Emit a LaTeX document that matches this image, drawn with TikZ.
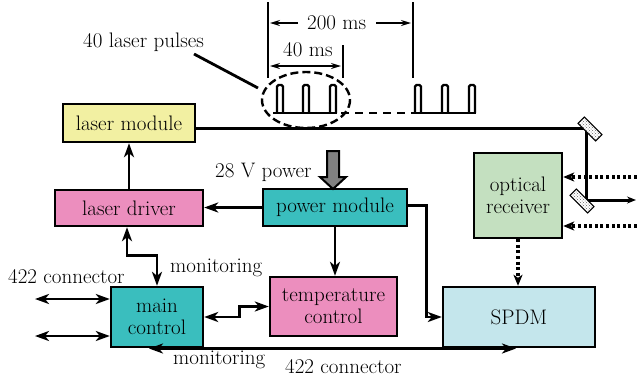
\documentclass[tikz,border=0pt]{standalone}
\usetikzlibrary{arrows.meta,calc,patterns}
\definecolor{cyel}{RGB}{242,240,162}
\definecolor{cpink}{RGB}{236,142,190}
\definecolor{cteal}{RGB}{58,190,190}
\definecolor{cgreen}{RGB}{196,224,192}
\definecolor{cblue}{RGB}{196,230,236}
\definecolor{cgray}{RGB}{128,128,128}
\begin{document}
\begin{tikzpicture}[x=1pt,y=-1pt,
  every node/.style={font=\fontsize{21}{22}\selectfont},
  box/.style={draw, line width=2.4pt, inner sep=0pt, align=center},
  lbl/.style={inner sep=0pt, anchor=base west},
  arr/.style={line width=2.8pt, -{Stealth[length=14pt,width=10pt,inset=4pt]}},
  darr/.style={line width=2.8pt, {Stealth[length=14pt,width=10pt,inset=4pt]}-{Stealth[length=14pt,width=10pt,inset=4pt]}},
  dotarr/.style={line width=3.2pt, dash pattern=on 3pt off 2.6pt, -{Stealth[length=11pt,width=9pt,inset=3pt]}},
  thinarr/.style={line width=1.4pt, -{Stealth[length=10pt,width=6pt]}},
  tick/.style={line width=1.8pt},
  pulse/.style={line width=2.2pt, rounded corners=1.5pt},
  mirrorbox/.style={draw, line width=1pt, minimum width=25pt, minimum height=9pt, inner sep=0pt,
    preaction={fill=white}, pattern=crosshatch dots, pattern color=black!60}
]
\useasboundingbox (0,0) rectangle (637,381);

% boxes
\node[box, fill=cyel, minimum width=132pt, minimum height=38pt] (lm) at (129,123) {laser module};
\node[box, fill=cpink, minimum width=148pt, minimum height=36pt] (ld) at (129,208) {laser driver};
\node[box, fill=cteal, minimum width=144pt, minimum height=37pt] (pm) at (335,207.5) {power module};
\node[box, fill=cteal, minimum width=92pt, minimum height=60pt] (mc) at (157,317) {main\\control};
\node[box, fill=cpink, minimum width=127pt, minimum height=59pt] (tc) at (333.5,306.5) {temperature\\control};
\node[box, fill=cgreen, minimum width=88pt, minimum height=85pt] (or) at (518,195.5) {optical\\receiver};
\node[box, fill=cblue, minimum width=152pt, minimum height=60pt] (sp) at (519,317) {SPDM};

% labels
\node[lbl] (t28) at (215,177) {28 V power};
\node[lbl] (mon1) at (170,272) {monitoring};
\node[lbl] (c1) at (8,283) {422 connector};
\node[lbl] (mon2) at (173,364) {monitoring};
\node[lbl] (c2) at (285,373) {422 connector};
\node[lbl] (lp) at (83,47) {40 laser pulses};
\node[lbl] (t200) at (307,29) {200 ms};
\node[lbl] (t40) at (283,56) {40 ms};

% 28 V gray arrow
\draw[line width=2pt, fill=cgray, line join=miter]
  (327,151) -- (339,151) -- (339,177) -- (346,177) -- (333,189) -- (320,177) -- (327,177) -- cycle;

% connectors
\draw[arr] (ld.north) -- (lm.south);
\draw[arr] (pm.west) -- (pm.west -| ld.east);
\draw[arr] (pm.south) -- (pm.south |- tc.north);
\draw[arr] ($(pm.east)+(0,-2)$) -- ++(18,0) |- (sp.west);
\draw[darr] (mc.north) -- ++(0,-30) -| ($(ld.south)+(-2,0)$);
\draw[darr] (mc.east) -- ++(35,0) |- (tc.west);
\coordinate (l1) at (35,299);
\coordinate (l2) at (35,336);
\draw[darr] (l1) -- (l1 -| mc.west);
\draw[darr] (l2) -- (l2 -| mc.west);
\coordinate (b1) at (149,348.5);
\coordinate (b2) at (516,348.5);
\draw[darr] (b1) -- (b2);

% optical paths
\coordinate (m1) at (586,128.5);
\coordinate (m2) at (586,200);
\coordinate (out) at (636,200);
\draw[line width=3pt, line join=miter, -{Stealth[length=9pt,width=7pt]}] ($(lm.east)+(0,5.5)$) -- (m1) -- (m2) -- (out);
\node[mirrorbox, rotate=-45] (mir1) at (590,129) {};
\node[mirrorbox, rotate=-45] (mir2) at (582,201) {};
\coordinate (i1) at (637,177);
\coordinate (i2) at (637,226);
\draw[dotarr] (i1) -- (i1 -| or.east);
\draw[dotarr] (i2) -- (i2 -| or.east);
\draw[dotarr] (or.south) -- (or.south |- sp.north);

% pulse train
\draw[line width=2.2pt] (273,113) -- (337,113);
\draw[line width=2.2pt, dash pattern=on 8pt off 6pt] (341,113) -- (413,113);
\draw[line width=2.2pt] (413,113) -- (476,113);
\foreach \x in {277,303,330,415,442,469}{
  \draw[pulse] (\x,113) -- (\x,85) -- (\x+6,85) -- (\x+6,113);
}
\draw[line width=2.4pt, dash pattern=on 8pt off 4pt] (306,100) ellipse [x radius=44, y radius=28];
\draw[line width=2.8pt] (194,54) -- (258,88);

% timing marks
\draw[tick] (268,2) -- (268,78);
\draw[tick] (413,2) -- (413,78);
\draw[tick] (343,45) -- (343,78);
\coordinate (a1) at (298,23);
\coordinate (a2) at (376,23);
\draw[thinarr] (a1) -- (270,23);
\draw[thinarr] (a2) -- (411,23);
\draw[thinarr, {Stealth[length=10pt,width=6pt]}-{Stealth[length=10pt,width=6pt]}] (270,66) -- (341,66);
\end{tikzpicture}
\end{document}
